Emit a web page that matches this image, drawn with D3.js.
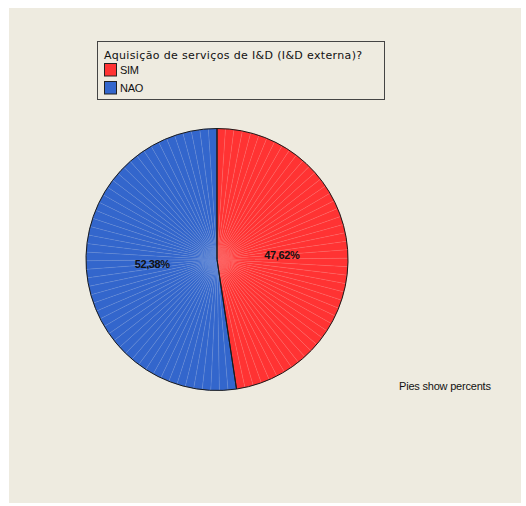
<!DOCTYPE html>
<html>
<head>
<meta charset="utf-8">
<script src="https://cdn.jsdelivr.net/npm/d3@7/dist/d3.min.js"></script>
<style>
  html, body { margin: 0; padding: 0; background: #ffffff; }
  svg { display: block; }
</style>
</head>
<body>
<script>
// Pie data: share of firms acquiring external R&D services
const categories = ["SIM", "NAO"];
const percents = [47.62, 52.38];
const labels = ["47,62%", "52,38%"];
const colors = ["#ff3333", "#3366cc"];
const legendTitle = "Aquisição de serviços de I&D (I&D externa)?";
const footnote = "Pies show percents";

const W = 526, H = 506;
const svg = d3.select("body").append("svg").attr("width", W).attr("height", H);

// chart panel
svg.append("rect").attr("x", 9).attr("y", 8).attr("width", 512).attr("height", 495)
  .attr("fill", "#eeebe0");

// legend
const lg = svg.append("g");
lg.append("rect").attr("x", 97.5).attr("y", 41.5).attr("width", 287).attr("height", 58)
  .attr("fill", "none").attr("stroke", "#444").attr("stroke-width", 1);
lg.append("text").attr("x", 104).attr("y", 59)
  .attr("font-family", "DejaVu Sans, Verdana, sans-serif").attr("font-size", 11)
  .attr("letter-spacing", 0.35).attr("fill", "#111").text(legendTitle);
categories.forEach((c, i) => {
  const y = 63.5 + i * 18;
  lg.append("rect").attr("x", 104.5).attr("y", y).attr("width", 12).attr("height", 12.5)
    .attr("fill", colors[i]).attr("stroke", "#222").attr("stroke-width", 1);
  lg.append("text").attr("x", 120).attr("y", y + 10.5)
    .attr("font-family", "Liberation Sans, Arial, sans-serif").attr("font-size", 11)
    .attr("letter-spacing", -0.3).attr("fill", "#111").text(c);
});

// pie
const cx = 217, cy = 259.5, R = 131;
const pie = d3.pie().sort(null).value(d => d)(percents);
const g = svg.append("g").attr("transform", `translate(${cx},${cy})`);
const arc = d3.arc().innerRadius(0).outerRadius(R);

// each slice is filled as a fan of thin wedges
const step = Math.PI / 48;
pie.forEach((p, i) => {
  const n = Math.max(1, Math.round((p.endAngle - p.startAngle) / step));
  const da = (p.endAngle - p.startAngle) / n;
  const wedges = d3.range(n).map(k => ({
    startAngle: p.startAngle + k * da,
    endAngle: p.startAngle + (k + 1) * da
  }));
  const lighter = d3.interpolateRgb(colors[i], "#ffffff")(0.3);
  g.append("g").selectAll("path").data(wedges).join("path")
    .attr("d", arc)
    .attr("fill", colors[i])
    .attr("stroke", lighter)
    .attr("stroke-opacity", 0.7)
    .attr("stroke-width", 0.4);
});

// slice outlines
g.selectAll("path.outline").data(pie).join("path")
  .attr("class", "outline")
  .attr("d", arc)
  .attr("fill", "none")
  .attr("stroke", "#1a1a1a")
  .attr("stroke-width", 1);

// percentage labels
const labelArc = d3.arc().innerRadius(65).outerRadius(65);
g.selectAll("text.pct").data(pie).join("text")
  .attr("class", "pct")
  .attr("transform", d => `translate(${labelArc.centroid(d)})`)
  .attr("text-anchor", "middle").attr("dy", "0.35em")
  .attr("font-family", "Liberation Sans, Arial, sans-serif")
  .attr("font-size", 11).attr("font-weight", "bold").attr("letter-spacing", -0.4)
  .attr("fill", "#111")
  .text((d, i) => labels[i]);

// footnote
svg.append("text").attr("x", 399).attr("y", 390)
  .attr("font-family", "Liberation Sans, Arial, sans-serif").attr("font-size", 11)
  .attr("letter-spacing", -0.2).attr("fill", "#111").text(footnote);
</script>
</body>
</html>
